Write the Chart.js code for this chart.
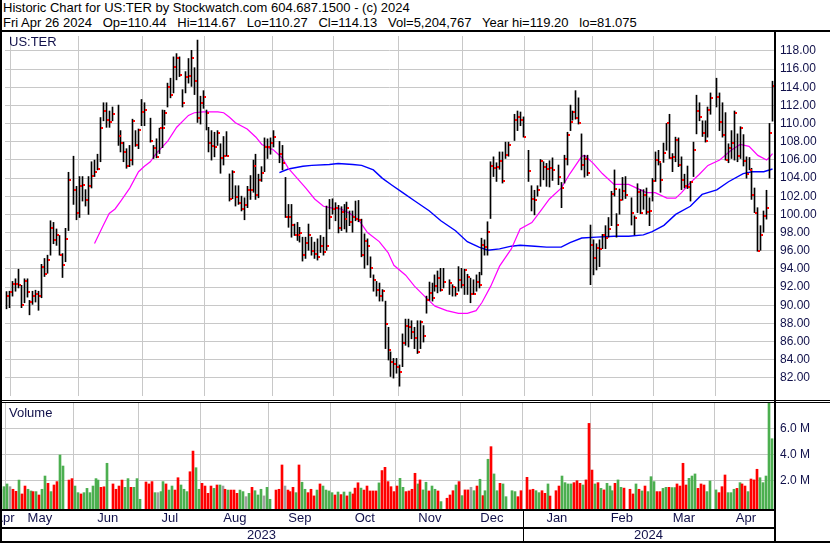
<!DOCTYPE html>
<html>
<head>
<meta charset="utf-8">
<script src="https://cdn.jsdelivr.net/npm/chart.js@4.4.1/dist/chart.umd.min.js"></script>
<style>
    html, body { margin: 0; padding: 0; background: #fff; }
    #wrap { position: relative; width: 830px; height: 543px; overflow: hidden; font-family: "Liberation Sans", Arial, sans-serif; }
    #head { position: absolute; left: 0; top: 0; width: 830px; height: 30px; font-size: 13px; line-height: 15px; color: #000; }
    #head div { padding-left: 3px; white-space: pre; }
    #priceBox { position: absolute; left: 0; top: 31px; width: 830px; height: 370px; }
    #volBox { position: absolute; left: 0; top: 401px; width: 830px; height: 142px; }
    .tag { position: absolute; left: 9px; font-size: 13px; color: #10104a; }
    .rule { position: absolute; background: #000; }
</style>
</head>
<body>
<div id="wrap">
    <div id="head">
        <div>Historic Chart for US:TER by Stockwatch.com 604.687.1500 - (c) 2024</div>
        <div>Fri Apr 26 2024   Op=110.44   Hi=114.67   Lo=110.27   Cl=114.13   Vol=5,204,767   Year hi=119.20   lo=81.075</div>
    </div>
    <div id="priceBox"><canvas id="priceChart" width="830" height="370"></canvas></div>
    <div id="volBox"><canvas id="volChart" width="830" height="142"></canvas></div>
    <div class="tag" style="top:34px;">US:TER</div>
    <div class="tag" style="top:405px;">Volume</div>
    <div class="rule" style="left:0;top:0;width:2px;height:543px;"></div>
    <div class="rule" style="left:0;top:30px;width:830px;height:2px;"></div>
    <div class="rule" style="left:0;top:400px;width:830px;height:1px;"></div>
    <div class="rule" style="left:0;top:402px;width:830px;height:1px;"></div>
    <div class="rule" style="left:0;top:509px;width:776px;height:2px;"></div>
    <div class="rule" style="left:0;top:527px;width:776px;height:2px;"></div>
    <div class="rule" style="left:0;top:541px;width:830px;height:2px;"></div>
    <div class="rule" style="left:774px;top:30px;width:2px;height:513px;"></div>
</div>
<script>
// weekday slots from 2023-04-27 to 2024-04-26, market holidays stay empty
const firstDay = '2023-04-27';
const lastDay = '2024-04-26';
const holidays = ['2023-05-29', '2023-06-19', '2023-07-04', '2023-09-04', '2023-11-23',
    '2023-12-25', '2024-01-01', '2024-01-15', '2024-02-19', '2024-03-29'];
const monthNames = ['Jan', 'Feb', 'Mar', 'Apr', 'May', 'Jun', 'Jul', 'Aug', 'Sep', 'Oct', 'Nov', 'Dec'];

// trading days only, in order
const highs = [
    91.5, 91.54,
    92.62, 92.91, 93.96, 92.19, 92.91, 92.91, 90.53, 91.54, 91.65, 91.54, 94.50, 95.15, 95.51, 99.30, 99.12, 98.40, 97.68, 95.69, 98.47, 104.64, 106.41, 103.09,
    104.17, 104.17, 102.73, 104.17, 105.80, 105.98, 106.63, 110.67, 112.30, 112.30, 111.39, 111.83, 112.04, 109.23, 107.96, 107.24, 107.60, 110.49, 109.23, 109.41, 112.66,
    112.30, 110.60, 107.60, 108.33, 109.50, 111.50, 111.47, 114.46, 115.00, 117.35, 117.71, 117.35, 113.74, 115.73, 117.17, 118.07, 116.16, 119.20, 113.02, 113.63,
    111.50, 109.59, 109.23, 109.05, 109.23, 107.78, 108.58, 109.12, 104.46, 104.82, 103.16, 103.16, 102.01, 101.83, 103.09, 104.28, 105.98, 106.63, 104.43, 105.26, 108.43, 108.32, 108.43,
    109.23, 108.04, 107.60, 104.07, 101.10, 101.10, 98.94, 99.12, 98.58, 97.49, 97.49, 98.94, 97.49, 96.95, 97.31, 97.68, 97.49, 100.92, 101.65, 101.72,
    101.29, 101.00, 100.85, 101.10, 101.36, 100.38, 100.38, 101.47, 101.54, 99.48, 97.86, 97.31, 95.33, 93.34, 92.62, 92.44, 91.72, 90.45, 87.57, 84.86, 84.14, 84.14,
    83.42, 86.84, 88.47, 88.47, 88.29, 87.57, 88.29, 88.29, 87.75, 91.00, 92.55, 92.44, 93.34, 93.77, 94.06, 94.06, 92.80, 92.26, 92.00, 94.25, 94.06,
    93.96, 93.41, 92.98, 92.80, 93.34, 93.63, 97.38, 97.20, 99.19, 105.80, 106.34, 105.69, 106.88, 106.88, 107.96, 107.96, 111.03, 111.39, 111.28, 110.74,
    107.06, 103.16, 102.66, 103.16, 106.05, 105.80, 105.62, 105.91, 106.23, 105.44, 103.52, 106.52, 109.05, 112.04, 111.39, 113.63, 112.84, 108.87, 106.52, 106.52, 98.83,
    97.20, 96.77, 97.20, 97.80, 98.76, 99.66, 102.55, 104.90, 100.09, 102.80, 104.07, 104.17, 101.83, 99.84, 103.38, 102.73, 102.73, 102.91, 101.83, 103.96,
    106.88, 107.06, 105.62, 107.86, 110.02, 111.03, 106.70, 108.51, 108.43, 106.34, 104.43, 105.33, 103.63, 107.96, 113.13, 112.30, 110.31, 110.31, 111.83, 113.38,
    115.00, 113.38, 112.30, 111.21, 107.78, 109.23, 111.39, 108.87, 109.66, 108.79, 106.34, 106.27, 105.08, 102.91, 100.74, 98.76, 100.38, 102.66, 110.02, 114.67,
];
const lows = [
    89.6, 89.73,
    91.00, 91.54, 91.90, 89.73, 90.27, 90.89, 88.94, 90.09, 90.35, 89.44, 90.82, 93.16, 93.52, 95.51, 96.77, 96.59, 95.51, 93.05, 94.79, 98.22, 101.10, 99.41,
    99.66, 101.47, 100.92, 100.00, 102.91, 104.17, 104.90, 105.80, 110.31, 109.59, 109.59, 110.31, 107.60, 106.88, 105.80, 105.08, 105.26, 105.44, 107.49, 107.24, 109.77,
    109.77, 107.96, 106.16, 106.23, 106.70, 107.35, 109.84, 111.83, 112.84, 113.38, 114.82, 115.18, 111.83, 113.38, 114.46, 114.10, 113.20, 110.13, 109.95, 111.68,
    109.30, 106.88, 105.98, 106.34, 107.60, 104.53, 105.44, 106.41, 101.47, 101.72, 100.92, 101.10, 100.38, 99.41, 100.74, 101.65, 102.44, 101.65, 101.83, 103.63, 104.71, 106.16, 106.63,
    107.42, 105.69, 104.90, 99.66, 98.58, 97.49, 97.68, 97.13, 96.95, 94.86, 95.15, 96.05, 95.51, 95.15, 94.97, 95.80, 95.51, 96.05, 98.40, 100.02,
    99.30, 97.96, 98.22, 98.40, 98.04, 98.76, 98.04, 99.30, 99.19, 95.33, 94.06, 94.43, 93.05, 91.54, 91.00, 90.45, 90.45, 85.22, 83.96, 82.15, 81.97, 82.51,
    81.08, 83.23, 85.58, 85.40, 86.30, 85.22, 84.68, 85.22, 85.94, 89.12, 90.53, 90.45, 91.54, 91.36, 91.54, 91.90, 91.18, 91.00, 91.00, 91.54, 91.90,
    91.18, 91.18, 90.27, 91.18, 91.54, 91.90, 93.34, 95.51, 95.51, 99.55, 104.17, 103.63, 104.97, 103.45, 106.16, 106.41, 108.14, 109.23, 109.77, 108.51,
    103.63, 100.38, 99.95, 102.01, 103.09, 103.81, 103.09, 103.02, 103.74, 103.27, 100.74, 103.45, 105.44, 109.23, 110.38, 110.49, 109.95, 104.90, 104.10, 104.28, 92.26,
    93.34, 93.88, 94.25, 96.23, 96.23, 97.49, 98.76, 102.01, 97.49, 100.02, 101.57, 101.75, 98.83, 97.75, 100.20, 100.09, 100.56, 100.02, 98.76, 101.47,
    103.63, 105.44, 102.44, 105.73, 107.06, 106.16, 104.71, 105.80, 105.26, 102.73, 102.91, 102.84, 101.47, 104.17, 108.87, 110.31, 108.58, 107.96, 108.51, 111.03,
    111.83, 109.23, 108.51, 105.98, 105.69, 106.16, 105.98, 105.80, 106.16, 105.33, 103.99, 104.90, 101.65, 100.20, 95.94, 96.05, 98.04, 99.48, 104.00, 110.27,
];
const closes = [
    91.0, 91.43,
    92.33, 92.33, 92.19, 89.99, 92.62, 91.43, 90.35, 90.96, 91.25, 90.96, 94.25, 93.45, 94.97, 98.54, 97.13, 97.75, 95.51, 94.43, 97.24, 103.74, 102.73, 100.17,
    103.09, 103.20, 101.57, 103.09, 104.28, 104.71, 105.04, 109.48, 111.39, 110.38, 110.13, 111.10, 108.69, 107.86, 106.88, 105.33, 105.98, 110.31, 107.64, 109.34, 111.32,
    111.50, 108.04, 107.35, 106.34, 109.48, 109.48, 111.21, 113.99, 113.13, 116.27, 117.24, 115.36, 112.30, 115.11, 115.26, 117.28, 114.64, 110.67, 112.30, 112.95,
    111.21, 107.86, 107.49, 107.42, 108.94, 106.23, 106.41, 106.41, 101.75, 104.71, 101.94, 101.25, 100.56, 101.03, 102.73, 102.73, 105.33, 102.12, 103.74, 104.61, 107.42, 107.42, 107.86,
    108.51, 106.70, 105.62, 99.73, 99.73, 98.87, 97.78, 97.68, 97.96, 95.51, 96.84, 97.78, 95.94, 95.62, 95.36, 96.52, 95.87, 96.52, 99.73, 100.56,
    100.71, 98.51, 100.31, 99.48, 100.67, 99.12, 99.66, 99.48, 99.37, 95.58, 97.03, 96.48, 94.14, 92.73, 91.68, 90.96, 91.61, 87.93, 85.11, 83.78, 83.52, 83.23,
    82.69, 85.87, 87.68, 87.57, 87.10, 86.41, 84.86, 88.18, 86.59, 90.60, 91.36, 90.74, 92.08, 93.05, 91.72, 92.51, 92.44, 91.97, 91.18, 92.80, 92.26,
    93.88, 93.16, 91.18, 91.18, 92.55, 92.26, 96.66, 96.41, 98.11, 105.33, 105.15, 105.26, 105.91, 103.63, 106.59, 107.60, 110.38, 110.74, 110.42, 108.51,
    104.82, 101.75, 101.57, 102.73, 105.91, 105.26, 104.97, 105.15, 104.90, 104.10, 102.91, 106.05, 108.76, 110.20, 111.28, 110.67, 110.02, 105.47, 106.09, 104.61, 96.59,
    95.15, 96.34, 96.23, 97.75, 97.42, 98.40, 102.30, 102.84, 98.83, 101.57, 102.55, 102.19, 100.17, 99.59, 102.44, 100.20, 102.12, 100.27, 100.38, 103.63,
    105.98, 105.73, 103.74, 106.77, 110.02, 106.16, 106.34, 108.22, 105.44, 103.81, 103.09, 103.02, 103.52, 107.06, 111.39, 110.74, 108.94, 108.14, 111.54, 112.84,
    112.95, 110.13, 108.79, 105.98, 107.31, 107.86, 111.21, 106.41, 109.48, 105.91, 104.46, 104.90, 102.12, 100.20, 95.94, 97.75, 99.84, 100.67, 108.94, 114.13,
];
// millions of shares
const volumes = [
    1.3, 1.51,
    1.72, 1.51, 1.31, 1.15, 2.02, 0.95, 1.56, 1.31, 1.18, 1.13, 1.13, 0.87, 1.31, 2.33, 1.77, 1.13, 1.64, 1.90, 3.95, 3.10, 2.02, 2.13,
    1.56, 1.05, 0.95, 1.05, 1.38, 1.05, 1.56, 2.13, 2.02, 1.46, 1.50, 3.31, 1.72, 1.31, 1.56, 2.02, 1.46, 2.13, 1.46, 1.46, 2.13,
    0.54, 1.87, 1.72, 1.90, 1.05, 1.05, 1.13, 1.90, 1.72, 1.25, 1.56, 1.25, 2.20, 1.64, 1.31, 1.13, 2.66, 4.25, 2.97, 1.31,
    1.77, 1.56, 1.00, 1.56, 1.38, 1.64, 1.64, 1.56, 1.31, 1.25, 1.25, 1.25, 1.00, 1.25, 1.13, 0.74, 1.00, 1.46, 1.20, 0.87, 1.31, 0.80, 1.46,
    0.54, 1.25, 1.31, 3.18, 1.56, 1.25, 1.13, 1.46, 1.05, 3.18, 1.85, 1.31, 1.05, 1.31, 0.80, 1.25, 1.72, 1.56, 1.25, 1.18,
    1.05, 0.87, 1.10, 0.90, 1.10, 0.80, 1.10, 0.95, 1.40, 1.81, 1.40, 1.25, 1.56, 1.18, 1.18, 1.18, 1.80, 2.75, 3.00, 1.90, 1.51, 1.13,
    1.56, 2.15, 1.46, 1.13, 1.18, 1.31, 2.54, 1.72, 2.03, 1.26, 1.85, 1.18, 1.56, 1.31, 1.18, 0.36, 0.62, 0.87, 1.20, 1.64, 1.90,
    0.82, 1.26, 1.26, 1.46, 1.20, 1.56, 2.08, 0.82, 1.20, 3.62, 4.59, 2.49, 1.20, 1.77, 1.72, 0.74, 1.20, 1.13, 0.74, 1.20,
    2.23, 1.26, 1.31, 1.20, 1.05, 1.20, 1.00, 1.72, 0.79, 1.20, 1.56, 2.33, 1.82, 1.72, 1.72, 1.82, 1.97, 1.77, 1.64, 2.03, 6.38,
    2.79, 1.72, 1.82, 1.38, 1.26, 1.77, 1.56, 1.20, 1.77, 2.03, 1.46, 1.40, 1.31, 0.95, 1.72, 1.31, 1.18, 1.56, 1.13, 2.28,
    1.90, 1.13, 1.13, 1.38, 1.46, 1.46, 1.44, 1.44, 1.72, 1.56, 3.31, 1.64, 2.15, 2.33, 2.49, 1.38, 1.72, 1.64, 1.13, 1.95,
    1.26, 1.05, 1.51, 2.41, 1.05, 1.05, 1.31, 1.38, 1.82, 1.72, 1.56, 1.13, 2.10, 2.03, 2.85, 2.20, 1.82, 2.33, 8.60, 5.20,
];

// moving averages: [weekday slot, value]
const ma30Points = [
    [30, 96.8], [33, 98.8], [35, 100.1], [37, 100.6], [39, 101.5], [42, 102.9], [45, 104.7], [47, 105.3],
    [49, 105.8], [51, 106.7], [55, 108.1], [58, 109.6], [62, 110.9], [64, 111.2], [67, 111.3], [72, 111.3],
    [74, 111.2], [76, 110.7], [78, 110.1], [82, 109.4], [85, 108.5], [87, 107.7], [91, 107.1], [94, 106.2],
    [96, 105.1], [99, 104.0], [102, 102.9], [105, 101.7], [108, 100.9], [111, 100.7], [114, 100.6], [117, 100.1],
    [120, 99.4], [123, 98.0], [127, 97.0], [130, 95.8], [132, 94.4], [136, 93.3], [139, 92.1], [143, 90.8],
    [146, 89.9], [150, 89.4], [154, 89.1], [157, 89.1], [160, 89.4], [162, 90.3], [165, 92.1], [168, 94.3],
    [172, 96.2], [175, 98.4], [179, 99.1], [182, 100.4], [185, 101.7], [189, 102.9], [192, 104.5], [196, 106.4],
    [197, 106.5], [200, 105.6], [203, 104.5], [207, 103.3], [212, 103.3], [216, 102.7], [218, 102.4], [221, 102.4],
    [225, 101.8], [228, 101.8], [230, 102.4], [233, 103.5], [236, 104.4], [239, 105.4], [243, 106.0], [247, 107.1],
    [250, 107.7], [253, 107.5], [256, 106.5], [259, 106.0], [260, 106.3], [261, 106.7],
];
const ma90Points = [
    [93, 104.6], [96, 105.0], [101, 105.3], [104, 105.4], [110, 105.5], [113, 105.6], [118, 105.5], [121, 105.4],
    [125, 104.9], [128, 104.0], [131, 103.3], [135, 102.4], [139, 101.5], [144, 100.4], [148, 99.3], [153, 98.2],
    [157, 97.0], [161, 96.4], [164, 96.05], [168, 96.2], [172, 96.5], [175, 96.6], [180, 96.5], [184, 96.4],
    [189, 96.4], [192, 96.9], [196, 97.4], [201, 97.5], [207, 97.6], [212, 97.6], [217, 97.75], [220, 98.1],
    [224, 98.8], [228, 100.0], [233, 100.9], [237, 102.2], [242, 102.7], [246, 103.6], [251, 104.5], [254, 104.7],
    [258, 104.7], [261, 105.0],
];

const priceTicks = [82, 84, 86, 88, 90, 92, 94, 96, 98, 100, 102, 104, 106, 108, 110, 112, 114, 116, 118];
const volumeTicks = [2, 4, 6];

document.addEventListener('DOMContentLoaded', () => {
    const days = [];
    const end = new Date(lastDay + 'T00:00:00Z');
    for (let d = new Date(firstDay + 'T00:00:00Z'); d <= end; d.setUTCDate(d.getUTCDate() + 1)) {
        const wd = d.getUTCDay();
        if (wd !== 0 && wd !== 6) {
            days.push(d.toISOString().slice(0, 10));
        }
    }

    const slotHigh = [];
    const slotLow = [];
    const slotClose = [];
    const slotVol = [];
    let k = 0;
    days.forEach((day) => {
        if (holidays.includes(day)) {
            slotHigh.push(null);
            slotLow.push(null);
            slotClose.push(null);
            slotVol.push(null);
        } else {
            slotHigh.push(highs[k]);
            slotLow.push(lows[k]);
            slotClose.push(closes[k]);
            slotVol.push(volumes[k]);
            k += 1;
        }
    });

    // month boundaries and label slots
    const monthStart = new Set();
    const monthLabelAt = {};
    const yearLabelAt = {};
    const groups = [];
    days.forEach((day, i) => {
        const key = day.slice(0, 7);
        if (!groups.length || groups[groups.length - 1].key !== key) {
            if (i > 0) monthStart.add(i);
            groups.push({ key, first: i, last: i });
        } else {
            groups[groups.length - 1].last = i;
        }
    });
    groups.forEach((g) => {
        const mid = Math.max(1, Math.round((g.first + g.last) / 2));
        monthLabelAt[mid] = monthNames[Number(g.key.slice(5, 7)) - 1];
    });
    const years = {};
    days.forEach((day, i) => {
        const y = day.slice(0, 4);
        years[y] = years[y] || { first: i, last: i };
        years[y].last = i;
    });
    let yearBreak = null;
    Object.keys(years).forEach((y) => {
        yearLabelAt[Math.round((years[y].first + years[y].last) / 2)] = y;
        if (years[y].first > 0) yearBreak = years[y].first;
    });

    const gridGrey = '#c8c8c8';
    const tickColor = '#10104a';
    const clear = 'rgba(0,0,0,0)';

    const closeMark = document.createElement('canvas');
    closeMark.width = 5;
    closeMark.height = 2;
    const cm = closeMark.getContext('2d');
    cm.fillStyle = '#ff0000';
    cm.fillRect(3, 0, 2, 2);

    // snap the thin marks to whole pixels so they stay sharp
    const crisp = {
        id: 'crisp',
        beforeDatasetsDraw: (chart) => {
            chart.data.datasets.forEach((ds, di) => {
                const meta = chart.getDatasetMeta(di);
                meta.data.forEach((el) => {
                    if (ds.snap === 'line') {
                        el.x = Math.floor(el.x) + 0.5;
                        el.width = 1;
                    } else if (ds.snap === 'tick') {
                        el.x = Math.floor(el.x) + 0.5;
                        el.y = Math.round(el.y);
                    } else if (ds.snap === 'vol') {
                        el.x = Math.floor(el.x);
                        el.width = 2;
                    }
                });
            });
        },
    };

    const monthGrid = (ctx) => (monthStart.has(ctx.index) ? gridGrey : clear);

    const xPlain = {
        type: 'category',
        offset: true,
        grid: { offset: true, color: monthGrid, drawTicks: false, lineWidth: 1 },
        border: { display: false },
        ticks: { display: false, autoSkip: false },
        afterFit: (s) => { s.height = 0; s.paddingLeft = 0; s.paddingRight = 0; },
    };

    new Chart(document.getElementById('priceChart'), {
        type: 'bar',
        data: {
            labels: days,
            datasets: [
                {
                    type: 'line',
                    snap: 'tick',
                    data: slotClose,
                    showLine: false,
                    pointStyle: closeMark,
                    pointRadius: 2,
                    order: 0,
                },
                {
                    type: 'bar',
                    snap: 'line',
                    data: days.map((_, i) => (slotHigh[i] == null ? null : [slotLow[i], slotHigh[i]])),
                    backgroundColor: '#000000',
                    barThickness: 1,
                    grouped: false,
                    order: 1,
                },
                {
                    type: 'line',
                    data: ma30Points.map(([i, v]) => ({ x: days[i], y: v })),
                    borderColor: '#ff00ff',
                    borderWidth: 1.2,
                    pointRadius: 0,
                    tension: 0,
                    order: 2,
                },
                {
                    type: 'line',
                    data: ma90Points.map(([i, v]) => ({ x: days[i], y: v })),
                    borderColor: '#0000ff',
                    borderWidth: 1.4,
                    pointRadius: 0,
                    tension: 0,
                    order: 3,
                },
            ],
        },
        plugins: [crisp],
        options: {
            responsive: false,
            animation: false,
            events: [],
            layout: { padding: { left: 0, right: 0, top: 1, bottom: 2 } },
            plugins: { legend: { display: false }, tooltip: { enabled: false } },
            scales: {
                x: xPlain,
                y: {
                    position: 'right',
                    min: 80,
                    max: 119.65,
                    bounds: 'data',
                    grid: { color: (ctx) => (priceTicks.includes(ctx.tick.value) ? gridGrey : clear), drawTicks: false },
                    border: { display: false },
                    afterBuildTicks: (s) => { s.ticks = priceTicks.map((value) => ({ value })); },
                    ticks: {
                        padding: 6,
                        color: tickColor,
                        font: { family: 'Liberation Sans', size: 12 },
                        callback: (v) => Number(v).toFixed(2),
                    },
                    afterFit: (s) => { s.width = 56; s.paddingTop = 0; s.paddingBottom = 0; },
                },
            },
        },
    });

    const volMin = -0.285;
    const yearDivider = {
        id: 'yearDivider',
        afterDraw: (chart) => {
            const xs = chart.scales.x;
            const c = chart.ctx;
            const half = (xs.getPixelForValue(1) - xs.getPixelForValue(0)) / 2;
            const x = Math.round(xs.getPixelForValue(yearBreak) - half) + 0.5;
            c.save();
            c.strokeStyle = '#000';
            c.lineWidth = 1;
            c.beginPath();
            c.moveTo(x, chart.chartArea.bottom);
            c.lineTo(x, chart.height);
            c.stroke();
            c.restore();
        },
    };

    const axisFont = { family: 'Liberation Sans', size: 13 };

    new Chart(document.getElementById('volChart'), {
        type: 'bar',
        data: {
            labels: days,
            datasets: [
                {
                    snap: 'vol',
                    data: slotVol,
                    base: volMin,
                    barThickness: 2,
                    backgroundColor: days.map((_, i) => {
                        let p = i - 1;
                        while (p >= 0 && slotClose[p] == null) p -= 1;
                        if (slotClose[i] == null || p < 0) return '#a0a0a0';
                        if (slotClose[i] > slotClose[p]) return '#4caf50';
                        if (slotClose[i] < slotClose[p]) return '#ff0000';
                        return '#a0a0a0';
                    }),
                },
            ],
        },
        plugins: [crisp, yearDivider],
        options: {
            responsive: false,
            animation: false,
            events: [],
            layout: { padding: { left: 0, right: 0, top: 2, bottom: 0 } },
            plugins: { legend: { display: false }, tooltip: { enabled: false } },
            scales: {
                x: {
                    type: 'category',
                    position: 'bottom',
                    weight: 0,
                    offset: true,
                    grid: { offset: true, color: monthGrid, drawTicks: false },
                    border: { display: false },
                    ticks: {
                        autoSkip: false,
                        maxRotation: 0,
                        padding: 1,
                        color: tickColor,
                        font: axisFont,
                        callback: (v, i) => monthLabelAt[i] || '',
                    },
                    afterFit: (s) => { s.height = 18; s.paddingLeft = 0; s.paddingRight = 0; },
                },
                x2: {
                    type: 'category',
                    position: 'bottom',
                    weight: 1,
                    offset: true,
                    grid: { display: false, drawTicks: false },
                    border: { display: false },
                    ticks: {
                        autoSkip: false,
                        maxRotation: 0,
                        padding: 0,
                        color: tickColor,
                        font: axisFont,
                        callback: (v, i) => yearLabelAt[i] || '',
                    },
                    afterFit: (s) => { s.height = 15; s.paddingLeft = 0; s.paddingRight = 0; },
                },
                y: {
                    position: 'right',
                    min: volMin,
                    max: 7.95,
                    bounds: 'data',
                    grid: { color: (ctx) => (volumeTicks.includes(ctx.tick.value) ? gridGrey : clear), drawTicks: false },
                    border: { display: false },
                    afterBuildTicks: (s) => { s.ticks = volumeTicks.map((value) => ({ value })); },
                    ticks: {
                        padding: 6,
                        color: tickColor,
                        font: { family: 'Liberation Sans', size: 12 },
                        callback: (v) => `${Number(v).toFixed(1)} M`,
                    },
                    afterFit: (s) => { s.width = 56; s.paddingTop = 0; s.paddingBottom = 0; },
                },
            },
        },
    });
});
</script>
</body>
</html>
